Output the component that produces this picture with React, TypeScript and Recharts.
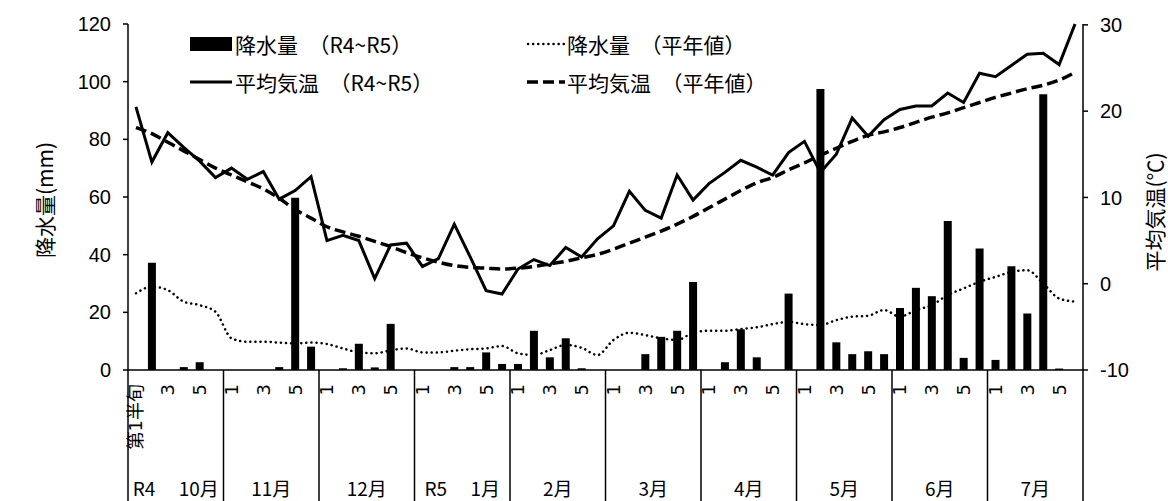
import React from 'react';
import { ComposedChart, Bar, Line, XAxis, YAxis } from 'recharts';

// 半旬 index 0..59 (R4 10月 第1半旬 〜 R5 7月 第6半旬)
const MONTHS = ['R4\u3000 10月', '11月', '12月', 'R5\u3000 1月', '2月', '3月', '4月', '5月', '6月', '7月'];
const HALF_LABELS = ['1', '', '3', '', '5', ''];

// 降水量 (R4~R5) mm
const RAIN = [
  0, 37.2, 0, 1.0, 2.7, 0,
  0, 0, 0, 1.0, 59.7, 8.1,
  0, 0.6, 9.1, 0.9, 16.0, 0,
  0, 0, 1.0, 1.0, 6.1, 2.1,
  2.1, 13.6, 4.4, 11.0, 0.6, 0,
  0, 0, 5.5, 11.5, 13.6, 30.5,
  0, 2.7, 14.1, 4.4, 0, 26.5,
  0, 97.5, 9.6, 5.5, 6.5, 5.5,
  21.5, 28.5, 25.6, 51.7, 4.2, 42.1,
  3.5, 36.0, 19.6, 95.6, 0.5, 0,
];

// 降水量 (平年値) mm
const RAIN_NORMAL = [
  26.6, 28.9, 27.7, 23.7, 22.5, 20.2,
  11.0, 9.8, 9.8, 9.5, 9.2, 9.5,
  9.0, 7.5, 6.1, 5.8, 6.8, 7.5,
  6.1, 6.1, 6.7, 7.2, 7.5, 8.3,
  5.8, 5.2, 6.9, 8.7, 7.7, 5.2,
  10.4, 12.9, 12.1, 11.0, 10.4, 12.9,
  13.6, 13.6, 14.2, 14.8, 15.9, 16.7,
  15.9, 15.6, 17.3, 18.5, 18.8, 20.8,
  18.5, 20.8, 22.5, 26.0, 28.3, 30.6,
  32.3, 34.0, 34.6, 30.0, 24.8, 23.7,
];

// 平均気温 (R4~R5) ℃
const TEMP = [
  20.5, 14.1, 17.5, 15.8, 14.2, 12.3,
  13.4, 12.1, 13.0, 9.8, 10.8, 12.4,
  5.0, 5.6, 5.0, 0.6, 4.5, 4.7,
  2.0, 2.9, 6.9, 3.1, -0.8, -1.2,
  1.7, 2.8, 2.1, 4.2, 3.1, 5.2,
  6.7, 10.7, 8.5, 7.6, 12.6, 9.7,
  11.6, 12.9, 14.3, 13.5, 12.6, 15.2,
  16.5, 12.9, 15.0, 19.2, 17.1, 19.0,
  20.2, 20.6, 20.6, 22.1, 21.0, 24.4,
  24.0, 25.3, 26.6, 26.7, 25.4, 30.1,
];

// 平均気温 (平年値) ℃
const TEMP_NORMAL = [
  18.1, 17.4, 16.4, 15.4, 14.4, 13.4,
  12.6, 11.8, 11.0, 9.9, 8.6, 7.6,
  6.6, 6.0, 5.5, 4.9, 4.3, 3.6,
  3.0, 2.5, 2.1, 1.9, 1.8, 1.7,
  1.8, 2.0, 2.3, 2.6, 3.0, 3.4,
  4.0, 4.7, 5.4, 6.1, 6.9, 7.8,
  8.8, 9.8, 10.8, 11.7, 12.3, 13.2,
  14.0, 14.9, 15.7, 16.5, 17.2, 17.6,
  18.1, 18.7, 19.3, 19.8, 20.4, 21.0,
  21.6, 22.1, 22.6, 23.0, 23.6, 24.5,
];

const RAIN_TICKS = [0, 20, 40, 60, 80, 100, 120];
const TEMP_TICKS = [-10, 0, 10, 20, 30];

const data = RAIN.map((r, i) => ({
  idx: i,
  rain: r,
  rainNormal: RAIN_NORMAL[i],
  temp: TEMP[i],
  tempNormal: TEMP_NORMAL[i],
}));

const W = 1168;
const H = 501;
const LEFT_W = 128;
const RIGHT_W = 85;
const X_AXIS_H = 131;
const BAND = (W - LEFT_W - RIGHT_W) / RAIN.length;

const NUM_FONT = '"Liberation Sans", Arial, sans-serif';
const JP_FONT = '"DejaVu Sans", "Noto Sans CJK JP", sans-serif';
const CJK_FONT = '"Noto Sans CJK JP", sans-serif';

const PeriodTick = (props: any) => {
  const { x, y, payload } = props;
  const i = Number(payload.value);
  const pos = i % 6;
  const m = Math.floor(i / 6);
  const label = i === 0 ? '第1半旬' : HALF_LABELS[pos];
  return (
    <g>
      {label && (
        <text
          transform={`translate(${x},${y + 14}) rotate(-90)`}
          textAnchor="end"
          dominantBaseline="central"
          fontSize={18}
          fontFamily={JP_FONT}
          fill="#000"
        >
          {label}
        </text>
      )}
      {pos === 0 && (
        <line x1={x - BAND / 2} x2={x - BAND / 2} y1={y} y2={y + X_AXIS_H} stroke="#000" strokeWidth={1.5} />
      )}
      {i === RAIN.length - 1 && (
        <line x1={x + BAND / 2} x2={x + BAND / 2} y1={y} y2={y + X_AXIS_H} stroke="#000" strokeWidth={1.5} />
      )}
      {pos === 2 && (
        <text
          x={x + BAND / 2}
          y={y + 117}
          textAnchor="middle"
          dominantBaseline="central"
          fontSize={19}
          fontFamily={CJK_FONT}
          fill="#000"
          style={{ whiteSpace: 'pre' }}
        >
          {MONTHS[m]}
        </text>
      )}
    </g>
  );
};

const axisTitle = (text: string, x: number, y: number) => () => (
  <text
    transform={`translate(${x},${y}) rotate(-90)`}
    textAnchor="middle"
    dominantBaseline="central"
    fontSize={21}
    fontFamily={CJK_FONT}
    fill="#000"
  >
    {text}
  </text>
);

const ChartLegend = () => (
  <svg width={W} height={100} style={{ position: 'absolute', left: 0, top: 0, pointerEvents: 'none' }}>
    <g fontFamily={CJK_FONT} fontSize={21} fill="#000" style={{ whiteSpace: 'pre' }}>
      <rect x={190} y={37} width={42} height={14} fill="#000" />
      <text x={235} y={44} dominantBaseline="central">降水量{'\u3000'}（R4~R5）</text>
      <line x1={190} x2={232} y1={82} y2={82} stroke="#000" strokeWidth={3} />
      <text x={235} y={82} dominantBaseline="central">平均気温{'\u3000'}（R4~R5）</text>
      <line x1={528} x2={564} y1={44} y2={44} stroke="#000" strokeWidth={2.5} strokeDasharray="0.1 5" strokeLinecap="round" />
      <text x={567} y={44} dominantBaseline="central">降水量{'\u3000'}（平年値）</text>
      <line x1={527} x2={565} y1={82} y2={82} stroke="#000" strokeWidth={3.5} strokeDasharray="11 5" />
      <text x={567} y={82} dominantBaseline="central">平均気温{'\u3000'}（平年値）</text>
    </g>
  </svg>
);

export default function App() {
  return (
    <div style={{ position: 'absolute', left: 0, top: 0, width: W, height: H, background: '#fff' }}>
      <ComposedChart width={W} height={H} data={data} margin={{ top: 24, right: 0, bottom: 0, left: 0 }}>
        <XAxis
          dataKey="idx"
          interval={0}
          height={X_AXIS_H}
          tickLine={false}
          tickSize={0}
          tickMargin={0}
          axisLine={{ stroke: '#000', strokeWidth: 1.5 }}
          tick={<PeriodTick />}
        />
        <YAxis
          yAxisId="rain"
          orientation="left"
          width={LEFT_W}
          domain={[0, 120]}
          ticks={RAIN_TICKS}
          interval={0}
          tickSize={5}
          tickMargin={12}
          axisLine={{ stroke: '#000', strokeWidth: 1.5 }}
          tickLine={{ stroke: '#000', strokeWidth: 1.5 }}
          tick={{ fill: '#000', fontSize: 20, fontFamily: NUM_FONT }}
          label={{ content: axisTitle('降水量(mm)', 44, 200) }}
        />
        <YAxis
          yAxisId="temp"
          orientation="right"
          width={RIGHT_W}
          domain={[-10, 30]}
          ticks={TEMP_TICKS}
          interval={0}
          tickSize={5}
          tickMargin={12}
          axisLine={{ stroke: '#000', strokeWidth: 1.5 }}
          tickLine={{ stroke: '#000', strokeWidth: 1.5 }}
          tick={{ fill: '#000', fontSize: 20, fontFamily: NUM_FONT }}
          label={{ content: axisTitle('平均気温(℃)', 1154, 212) }}
        />
        <Bar yAxisId="rain" dataKey="rain" fill="#000" barSize={8} isAnimationActive={false} />
        <Line
          yAxisId="rain"
          dataKey="rainNormal"
          type="monotone"
          stroke="#000"
          strokeWidth={2.5}
          strokeDasharray="0.1 5"
          strokeLinecap="round"
          dot={false}
          isAnimationActive={false}
        />
        <Line
          yAxisId="temp"
          dataKey="tempNormal"
          type="monotone"
          stroke="#000"
          strokeWidth={3.5}
          strokeDasharray="11 5"
          dot={false}
          isAnimationActive={false}
        />
        <Line
          yAxisId="temp"
          dataKey="temp"
          type="linear"
          stroke="#000"
          strokeWidth={3}
          dot={false}
          isAnimationActive={false}
        />
      </ComposedChart>
      <ChartLegend />
    </div>
  );
}
